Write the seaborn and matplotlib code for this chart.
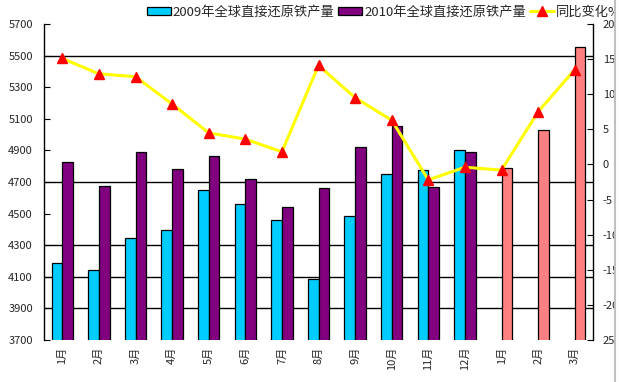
import numpy as np
import pandas as pd
import matplotlib
matplotlib.use("Agg")
import matplotlib.pyplot as plt
import seaborn as sns
from matplotlib.patches import Patch, Rectangle
from matplotlib.lines import Line2D

# ---------------- data ----------------
month_labels = ["1月", "2月", "3月", "4月", "5月", "6月", "7月", "8月", "9月",
                "10月", "11月", "12月", "1月", "2月", "3月"]
cat_keys = [f"c{i}" for i in range(len(month_labels))]

prod_2009 = [4190, 4140, 4345, 4395, 4648, 4560, 4460, 4086, 4485, 4750, 4775, 4903]
prod_2010 = [4826, 4675, 4888, 4781, 4863, 4719, 4541, 4661, 4920, 5053, 4668, 4889]
prod_2011 = [4789, 5030, 5557]
yoy_change = [15.1, 12.9, 12.5, 8.6, 4.5, 3.6, 1.8, 14.1, 9.5, 6.3, -2.2, -0.4, -0.8, 7.5, 13.5]

name_09 = "2009年全球直接还原铁产量"
name_10 = "2010年全球直接还原铁产量"
name_yoy = "同比变化%"

left_ticks = list(range(3700, 5701, 200))
right_ticks = [20, 15, 10, 5, 0, -5, -10, -15, -20, -25]
right_tick_labels = ["20", "15", "10", "5", "0", "-5", "-10", "-15", "-20", "25"]

grid_levels = [5500, 4700, 4300, 4100, 3900]

# ---------------- style ----------------
sns.set_style("white")
plt.rcParams["font.family"] = ["Noto Sans CJK SC", "DejaVu Sans"]
plt.rcParams["axes.unicode_minus"] = False

c09, c10, c11 = "#00CCFF", "#800080", "#FF8080"

rows = []
for i, v in enumerate(prod_2009):
    rows.append((cat_keys[i], "a", v))
for i, v in enumerate(prod_2010):
    rows.append((cat_keys[i], "b", v))
for j, v in enumerate(prod_2011):
    rows.append((cat_keys[12 + j], "b", v))
df = pd.DataFrame(rows, columns=["cat", "series", "value"])

fig = plt.figure(figsize=(6.19, 3.82), dpi=100)
ax = fig.add_axes([44 / 619, 1 - 340 / 382, (593 - 44) / 619, (340 - 24) / 382])

for g in grid_levels:
    ax.axhline(g, color="black", lw=1.0, zorder=0.5)

sns.barplot(data=df, x="cat", y="value", hue="series", order=cat_keys,
            hue_order=["a", "b"], palette={"a": c09, "b": c10},
            saturation=1, width=0.58, dodge=True, edgecolor="black",
            linewidth=0.9, legend=False, ax=ax, zorder=2)

# recolor 2011 bars
for p in ax.patches:
    cx = p.get_x() + p.get_width() / 2
    if cx > 11.6:
        p.set_facecolor(c11)

ax.set_xlim(-0.5, len(cat_keys) - 0.5)
ax.set_ylim(3700, 5700)
ax.set_yticks(left_ticks)
ax.set_xticks(range(len(cat_keys)))
ax.set_xticklabels(month_labels, rotation=90, fontsize=8)
ax.set_xticks(np.arange(-0.5, len(cat_keys), 1), minor=True)
ax.tick_params(axis="x", which="major", length=0, pad=5)
ax.tick_params(axis="x", which="minor", length=3, direction="in", color="black")
ax.tick_params(axis="y", length=4, direction="in", labelsize=8, pad=8, color="black")
ax.set_xlabel("")
ax.set_ylabel("")
for s in ["top", "bottom", "right"]:
    ax.spines[s].set_visible(False)
ax.spines["left"].set_color("black")
ax.spines["left"].set_linewidth(1.0)

ax2 = ax.twinx()
ax2.plot(range(len(cat_keys)), yoy_change, color="#FFFF00", lw=2.2,
         marker="^", markersize=7, markerfacecolor="#FF0000",
         markeredgecolor="#FF0000", zorder=5)
ax2.set_ylim(-25, 20)
ax2.set_yticks(right_ticks)
ax2.set_yticklabels(right_tick_labels)
ax2.tick_params(axis="y", length=4, direction="in", labelsize=8, pad=7, color="black")
for s in ["top", "bottom", "left"]:
    ax2.spines[s].set_visible(False)
ax2.spines["right"].set_color("black")
ax2.spines["right"].set_linewidth(1.0)

handles = [Patch(facecolor=c09, edgecolor="black", lw=0.9),
           Patch(facecolor=c10, edgecolor="black", lw=0.9),
           Line2D([], [], color="#FFFF00", lw=2.2, marker="^", markersize=7,
                  markerfacecolor="#FF0000", markeredgecolor="#FF0000")]
fig.legend(handles, [name_09, name_10, name_yoy], loc="center left",
           bbox_to_anchor=(147 / 619, 1 - 12 / 382), ncol=3, frameon=False,
           fontsize=9.5, handlelength=1.8, handleheight=0.6, handletextpad=0.15,
           columnspacing=0.3, borderaxespad=0, borderpad=0)

# clipped right edge as in the reference
fig.add_artist(Rectangle((614 / 619, 0), 5 / 619, 1, transform=fig.transFigure,
                         facecolor="white", edgecolor="none", zorder=20))
fig.add_artist(Line2D([614.5 / 619, 614.5 / 619], [0, 1], transform=fig.transFigure,
                      color="#C0C0C0", lw=1.5, zorder=21))

fig.savefig("out.png", dpi=100)
